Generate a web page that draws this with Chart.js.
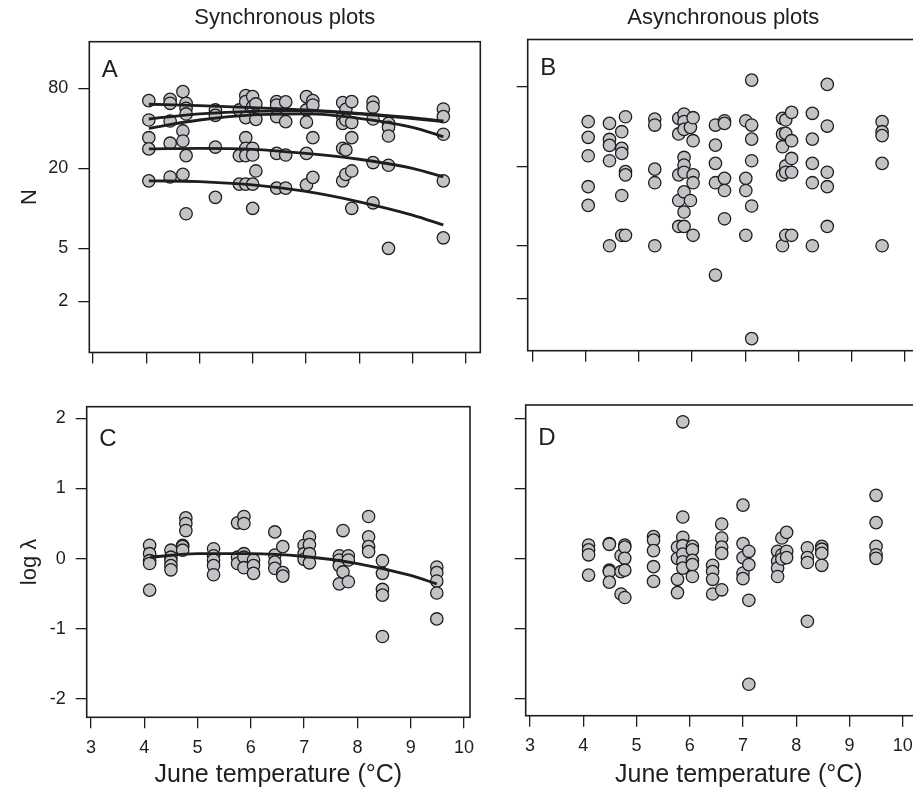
<!DOCTYPE html>
<html><head><meta charset="utf-8">
<script src="https://cdn.jsdelivr.net/npm/chart.js@4"></script>
<style>
html,body{margin:0;padding:0;background:#fff;overflow:hidden;width:913px;height:792px;position:relative;}
canvas{position:absolute;}
</style></head><body>
<canvas id="cA" style="left:0px;top:0px;"></canvas>
<canvas id="cB" style="left:440px;top:0px;"></canvas>
<canvas id="cC" style="left:0px;top:370px;"></canvas>
<canvas id="cD" style="left:440px;top:370px;"></canvas>
<script>
// ---------- tick values & labels ----------
const tempTicks = [3, 4, 5, 6, 7, 8, 9, 10];
const tempTickLabels = ['3', '4', '5', '6', '7', '8', '9', '10'];
const nTicks = [2, 5, 20, 80];
const nTickLabels = ['2', '5', '20', '80'];
const lambdaTicks = [-2, -1, 0, 1, 2];
const lambdaTickLabels = ['-2', '-1', '0', '1', '2'];

// ---------- Panel A: synchronous plots, N ----------
const syncNTemps = [4.05, 4.45, 4.69, 4.75, 5.3, 5.75, 5.87, 6.0, 6.06, 6.45, 6.62, 7.01, 7.13, 7.69, 7.75, 7.86, 8.26, 8.55, 9.58];
const syncN = [
  [64.6, 46.2, 34.0, 28.0, 16.1],
  [66.1, 61.7, 45.4, 30.9, 17.2],
  [75.5, 38.2, 32.1, 18.0],
  [61.7, 56.6, 51.3, 24.9, 9.1],
  [55.0, 50.1, 28.9, 12.1],
  [55.0, 24.9, 15.2],
  [70.5, 63.5, 48.1, 34.0, 28.3, 24.9, 15.2],
  [69.3, 58.2, 28.3, 25.2, 15.2, 10.0],
  [61.0, 46.7, 19.1],
  [63.5, 59.9, 49.0, 25.9, 14.2],
  [63.2, 44.9, 25.2, 14.2],
  [69.3, 55.0, 44.5, 25.9, 15.0],
  [64.6, 59.9, 34.0, 17.1],
  [62.4, 49.0, 43.6, 28.3, 16.1],
  [55.6, 46.2, 27.5, 18.0],
  [63.5, 44.2, 34.0, 19.1, 10.0],
  [63.0, 57.6, 47.0, 22.1, 11.0],
  [43.6, 40.7, 35.0, 21.1, 5.0],
  [55.9, 49.0, 36.1, 16.1, 6.0]
];
const fitTempsA = [4.05, 5, 6, 7, 8, 9, 9.58];
const fitA1 = [60.7, 59.2, 57.2, 55.0, 51.9, 48.1, 45.4];
const fitA2 = [47.0, 51.3, 53.7, 54.1, 51.3, 47.3, 44.9];
const fitA3 = [40.0, 46.2, 50.4, 51.3, 47.6, 40.7, 34.6];
const fitA4 = [28.0, 28.3, 27.8, 25.9, 23.4, 20.0, 17.3];
const fitA5 = [16.1, 15.9, 15.0, 13.4, 11.2, 8.9, 7.5];

// ---------- Panel B: asynchronous plots, N ----------
const asyncNTemps = [4.05, 4.45, 4.68, 4.75, 5.3, 5.75, 5.85, 5.97, 6.02, 6.44, 6.61, 7.01, 7.12, 7.7, 7.76, 7.87, 8.26, 8.54, 9.57];
const asyncN = [
  [43.5, 33.1, 24.0, 14.0, 10.1],
  [42.2, 31.9, 28.8, 22.0, 5.0],
  [36.5, 27.3, 25.0, 12.0, 6.0],
  [47.4, 18.2, 17.2, 6.0],
  [45.5, 41.0, 19.0, 15.0, 5.0],
  [46.1, 35.1, 17.2, 11.0, 7.0],
  [49.7, 43.5, 38.0, 23.3, 20.4, 18.0, 12.8, 9.0, 7.0],
  [39.4, 11.0],
  [46.6, 31.2, 17.2, 15.0, 6.0],
  [41.0, 28.9, 21.0, 15.0, 3.0],
  [44.2, 42.2, 16.2, 13.1, 8.0],
  [44.2, 16.2, 13.1, 6.0],
  [89.8, 41.0, 32.1, 22.0, 10.0, 0.99],
  [46.1, 35.1, 28.1, 17.2, 5.0],
  [44.8, 35.5, 20.1, 18.0, 6.0],
  [51.1, 31.2, 22.9, 18.0, 6.0],
  [50.3, 32.1, 21.0, 15.0, 5.0],
  [83.3, 40.3, 18.0, 14.0, 7.0],
  [43.5, 36.5, 34.1, 21.0, 5.0]
];

// ---------- Panel C: synchronous plots, log lambda ----------
const syncLTemps = [4.1, 4.5, 4.72, 4.78, 5.3, 5.75, 5.87, 6.05, 6.45, 6.6, 7.0, 7.1, 7.66, 7.73, 7.83, 8.21, 8.47, 9.49];
const syncLogLambda = [
  [0.19, 0.07, -0.03, -0.07, -0.45],
  [0.12, 0.02, -0.03, -0.10, -0.16],
  [0.19, 0.17, 0.12],
  [0.58, 0.50, 0.40],
  [0.14, 0.04, -0.02, -0.10, -0.23],
  [0.51, 0.02, -0.07],
  [0.60, 0.50, 0.07, 0.02, -0.13],
  [-0.02, -0.10, -0.21],
  [0.38, 0.05, -0.05, -0.14],
  [0.17, -0.20, -0.25],
  [0.19, 0.07, -0.01],
  [0.31, 0.20, 0.07, -0.06],
  [0.04, -0.02, -0.10, -0.36],
  [0.40, -0.19],
  [0.04, -0.02, -0.33],
  [0.60, 0.31, 0.17, 0.10],
  [-0.03, -0.21, -0.44, -0.52, -1.11],
  [-0.12, -0.20, -0.32, -0.49, -0.86]
];
const fitTempsC = [4.11, 5, 6, 7, 8, 9, 9.49];
const fitC = [0.02, 0.07, 0.07, 0.03, -0.07, -0.24, -0.36];

// ---------- Panel D: asynchronous plots, log lambda ----------
const asyncLTemps = [4.1, 4.49, 4.71, 4.78, 5.32, 5.77, 5.87, 6.05, 6.43, 6.6, 7.0, 7.11, 7.65, 7.73, 7.82, 8.21, 8.48, 9.5];
const asyncLogLambda = [
  [0.19, 0.12, 0.05, -0.24],
  [0.21, 0.20, -0.17, -0.19, -0.34],
  [0.04, -0.19, -0.51],
  [0.19, 0.16, 0.0, -0.17, -0.56],
  [0.31, 0.26, 0.11, -0.12, -0.33],
  [0.16, 0.0, -0.30, -0.49],
  [1.95, 0.59, 0.30, 0.18, 0.06, -0.05, -0.14],
  [0.17, 0.12, -0.03, -0.09, -0.26],
  [-0.10, -0.19, -0.30, -0.51],
  [0.49, 0.29, 0.16, 0.07, -0.45],
  [0.76, 0.21, 0.01, -0.21, -0.29],
  [0.10, -0.09, -0.60, -1.80],
  [0.10, -0.04, -0.14, -0.26],
  [0.29, 0.05, -0.01],
  [0.37, 0.10, 0.01],
  [0.15, 0.01, -0.06, -0.90],
  [0.17, 0.13, 0.07, -0.10],
  [0.90, 0.51, 0.17, 0.05, 0.0]
];

// ---------- helpers ----------
const FONT = "'Liberation Sans', Arial, Helvetica, sans-serif";
const INK = '#1e1e1e';
function columns(temps, vals) {
  const out = [];
  temps.forEach((t, i) => vals[i].forEach(v => out.push({ x: t, y: v })));
  return out;
}
function curve(xs, ys) { return xs.map((x, i) => ({ x: x, y: ys[i] })); }

const framePlugin = {
  id: 'frame',
  afterDraw(chart) {
    const a = chart.chartArea, ctx = chart.ctx, o = chart.options.plugins.frame;
    ctx.save();
    ctx.strokeStyle = INK; ctx.lineWidth = 1.6;
    ctx.strokeRect(a.left, a.top, a.right - a.left, a.bottom - a.top);
    ctx.fillStyle = INK;
    ctx.font = '24px ' + FONT;
    ctx.textBaseline = 'alphabetic'; ctx.textAlign = 'left';
    ctx.fillText(o.letter, a.left + 12.5, a.top + o.letterY);
    ctx.restore();
  }
};

function makePanel(id, p) {
  const cv = document.getElementById(id);
  cv.width = p.w; cv.height = p.h;
  cv.style.width = p.w + 'px'; cv.style.height = p.h + 'px';
  const datasets = [];
  (p.lines || []).forEach(l => datasets.push({
    data: l, showLine: true, pointRadius: 0, borderColor: INK, borderWidth: 2.8,
    fill: false, cubicInterpolationMode: 'monotone', order: 0
  }));
  datasets.push({
    data: p.points, pointRadius: 6.2, pointBackgroundColor: '#c2c3c7',
    pointBorderColor: INK, pointBorderWidth: 1.3, showLine: false, order: 1
  });
  const grid = { drawOnChartArea: false, drawTicks: true, tickLength: 11, color: INK, lineWidth: 1.3 };
  new Chart(cv, {
    type: 'scatter',
    data: { datasets },
    options: {
      responsive: false, animation: false, devicePixelRatio: 1, events: [],
      layout: { padding: p.padding },
      plugins: {
        legend: { display: false }, tooltip: { enabled: false },
        title: p.title ? {
          display: true, text: p.title, fullSize: false, color: INK,
          font: { family: FONT, size: 22, weight: 'normal' },
          padding: { top: 4.8, bottom: p.titleBottom }
        } : { display: false },
        frame: { letter: p.letter, letterY: p.letterY }
      },
      scales: {
        x: {
          type: 'linear', min: p.xMin, max: p.xMax, bounds: 'data',
          grid, border: { display: false },
          afterBuildTicks: s => { s.ticks = tempTicks.map(v => ({ value: v })); },
          afterFit: s => { s.height = p.xHeight; },
          ticks: {
            autoSkip: false, maxRotation: 0, padding: 9, color: INK,
            font: { family: FONT, size: 18 },
            callback: v => p.xLabels ? tempTickLabels[tempTicks.indexOf(v)] : ''
          },
          title: p.xTitle ? {
            display: true, text: p.xTitle, color: INK,
            font: { family: FONT, size: 25 }, padding: { top: 0, bottom: 2.2 }
          } : { display: false }
        },
        y: {
          type: p.yType, min: p.yMin, max: p.yMax, bounds: 'data',
          grid, border: { display: false },
          afterBuildTicks: s => { s.ticks = p.yTicks.map(v => ({ value: v })); },
          afterFit: s => { s.width = p.yWidth; },
          ticks: {
            autoSkip: false, padding: 10, color: INK,
            font: { family: FONT, size: 18 },
            callback: v => p.yLabels ? p.yLabels[p.yTicks.indexOf(v)] : ''
          },
          title: p.yTitle ? {
            display: true, text: p.yTitle, color: INK,
            font: { family: FONT, size: 22 }, padding: { top: 16.8, bottom: 0 }
          } : { display: false }
        }
      }
    },
    plugins: [framePlugin]
  });
}

makePanel('cA', {
  w: 500, h: 392, padding: { left: 0, right: 19.7, top: 0, bottom: 0 },
  title: 'Synchronous plots', titleBottom: 10.5,
  xMin: 2.9324, xMax: 10.274, xHeight: 39.5, xLabels: false,
  yType: 'logarithmic', yMin: 0.8223, yMax: 179.4, yTicks: nTicks, yLabels: nTickLabels,
  yWidth: 89.3, yTitle: 'N', letter: 'A', letterY: 35.5,
  points: columns(syncNTemps, syncN),
  lines: [curve(fitTempsA, fitA1), curve(fitTempsA, fitA2), curve(fitTempsA, fitA3), curve(fitTempsA, fitA4), curve(fitTempsA, fitA5)]
});
makePanel('cB', {
  w: 490, h: 392, padding: { left: 0, right: 11, top: 0, bottom: 0 },
  title: 'Asynchronous plots', titleBottom: 8.3,
  xMin: 2.9136, xMax: 10.263, xHeight: 41.3, xLabels: false,
  yType: 'logarithmic', yMin: 0.802, yMax: 182.2, yTicks: nTicks, yLabels: null,
  yWidth: 87.7, yTitle: null, letter: 'B', letterY: 35.5,
  points: columns(asyncNTemps, asyncN), lines: []
});
makePanel('cC', {
  w: 500, h: 422, padding: { left: 0, right: 30, top: 36.7, bottom: 0 },
  title: null,
  xMin: 2.9193, xMax: 10.113, xHeight: 74.7, xLabels: true, xTitle: 'June temperature (°C)',
  yType: 'linear', yMin: -2.262, yMax: 2.165, yTicks: lambdaTicks, yLabels: lambdaTickLabels,
  yWidth: 86.7, yTitle: 'log λ', letter: 'C', letterY: 39.5,
  points: columns(syncLTemps, syncLogLambda), lines: [curve(fitTempsC, fitC)]
});
makePanel('cD', {
  w: 520, h: 422, padding: { left: 0, right: 8, top: 35, bottom: 0 },
  title: null,
  xMin: 2.919, xMax: 10.926, xHeight: 76.3, xLabels: true, xTitle: 'June temperature (°C)',
  yType: 'linear', yMin: -2.249, yMax: 2.19, yTicks: lambdaTicks, yLabels: null,
  yWidth: 85.7, yTitle: null, letter: 'D', letterY: 39.5,
  points: columns(asyncLTemps, asyncLogLambda), lines: []
});
</script>
</body></html>
